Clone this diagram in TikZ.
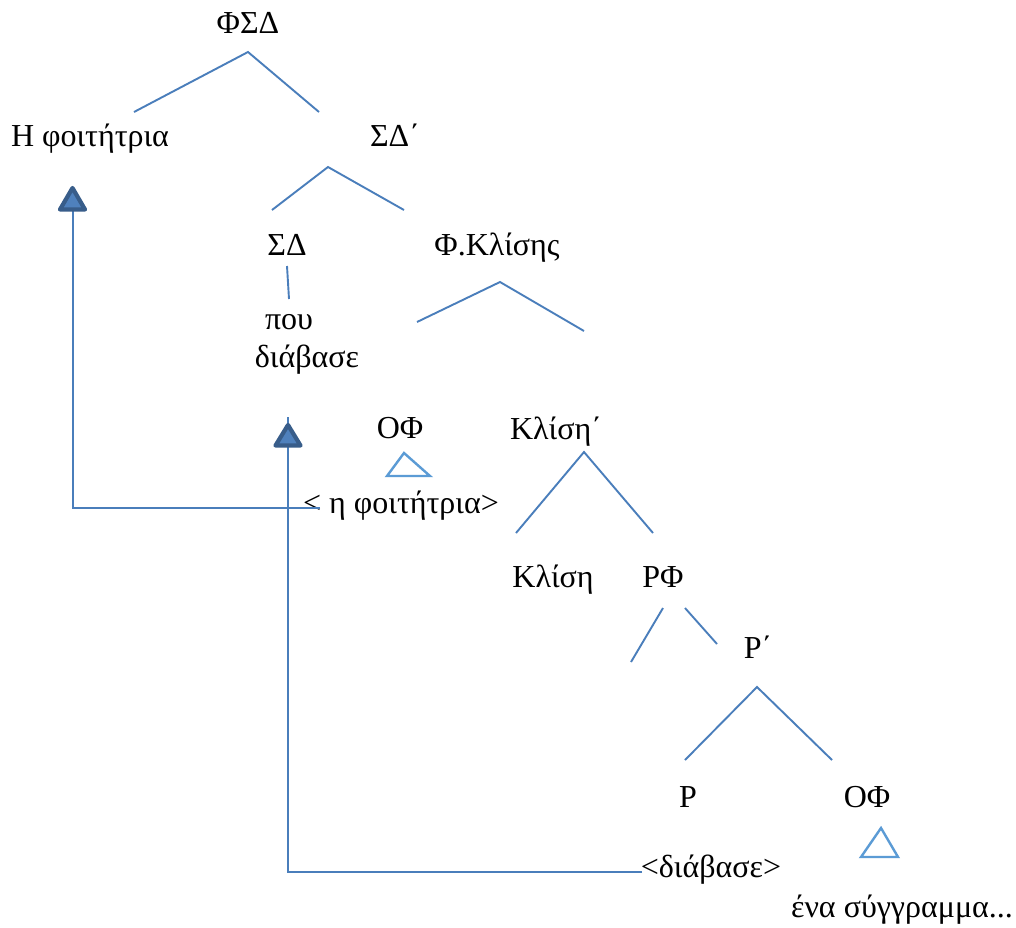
\documentclass[tikz,border=0pt]{standalone}
\usepackage{fontspec}
\setmainfont{Liberation Serif}
\definecolor{branch}{HTML}{4A7EBB}
\definecolor{tri}{HTML}{5B9BD5}
\definecolor{headfill}{HTML}{4F81BD}
\definecolor{headline}{HTML}{385D8A}
\begin{document}
\begin{tikzpicture}[x=1pt,y=-1pt,
  lbl/.style={anchor=base,inner sep=0pt,font=\fontsize{32}{38}\selectfont},
  br/.style={draw=branch,line width=1.9pt},
  tribox/.style={draw=tri,line width=2.4pt,line join=miter},
  mv/.style={draw=branch,line width=1.9pt},
  head/.style={fill=headfill,draw=headline,line width=4.2pt,line join=round}]
\useasboundingbox[fill=white] (0,0) rectangle (1016,927);

% labels
\node[lbl] (fsd) at (248,33) {ΦΣΔ};
\node[lbl] (fititria) at (90,146) {Η φοιτήτρια};
\node[lbl] (sdbar) at (395,146) {ΣΔ΄};
\node[lbl] (sd) at (287,255) {ΣΔ};
\node[lbl] (fklisis) at (497,255) {Φ.Κλίσης};
\node[lbl] (pou) at (289,329) {που};
\node[lbl] (diavase) at (307,367) {διάβασε};
\node[lbl] (of1) at (400,438) {ΟΦ};
\node[lbl] (klisibar) at (556,439) {Κλίση΄};
\node[lbl] (trace1) at (401,513) {< η φοιτήτρια>};
\node[lbl] (klisi) at (553,587) {Κλίση};
\node[lbl] (rf) at (663,587) {ΡΦ};
\node[lbl] (rbar) at (758,658) {Ρ΄};
\node[lbl] (r) at (688,807) {Ρ};
\node[lbl] (of2) at (867,807) {ΟΦ};
\node[lbl] (trace2) at (711,877) {<διάβασε>};
\node[lbl] (sygg) at (902,917) {ένα σύγγραμμα...};

% branch coordinates
\coordinate (a1) at (248,52);  \coordinate (a1l) at (134,112); \coordinate (a1r) at (319,112);
\coordinate (a2) at (328,167); \coordinate (a2l) at (272,210); \coordinate (a2r) at (404,210);
\coordinate (s1) at (287,266); \coordinate (s2) at (289,299);
\coordinate (a3) at (500,282); \coordinate (a3l) at (417,322); \coordinate (a3r) at (584,331);
\coordinate (a4) at (584,452); \coordinate (a4l) at (516,533); \coordinate (a4r) at (653,533);
\coordinate (b1) at (663,608); \coordinate (b1e) at (631,662);
\coordinate (b2) at (685,608); \coordinate (b2e) at (717,644);
\coordinate (a5) at (757,687); \coordinate (a5l) at (685,760); \coordinate (a5r) at (832,760);

\draw[br] (a1l) -- (a1) -- (a1r);
\draw[br] (a2l) -- (a2) -- (a2r);
\draw[br] (s1) -- (s2);
\draw[br] (a3l) -- (a3) -- (a3r);
\draw[br] (a4l) -- (a4) -- (a4r);
\draw[br] (b1) -- (b1e);
\draw[br] (b2) -- (b2e);
\draw[br] (a5l) -- (a5) -- (a5r);

% small triangles
\coordinate (t1) at (404,453); \coordinate (t1l) at (387,476); \coordinate (t1r) at (430,476);
\draw[tribox] (t1) -- (t1l) -- (t1r) -- cycle;
\coordinate (t2) at (881,828); \coordinate (t2l) at (861,857); \coordinate (t2r) at (898,857);
\draw[tribox] (t2) -- (t2l) -- (t2r) -- cycle;

% movement arrows
\coordinate (m1a) at (320,508); \coordinate (m1b) at (73,508); \coordinate (m1c) at (73,206);
\draw[mv] (m1a) -- (m1b) -- (m1c);
\filldraw[head] (72.5,188) -- (60,209.5) -- (85,209.5) -- cycle;

\coordinate (m2a) at (642,872); \coordinate (m2b) at (288,872); \coordinate (m2c) at (288,417);
\draw[mv] (m2a) -- (m2b) -- (m2c);
\filldraw[head] (288,425) -- (275.5,445.5) -- (300.5,445.5) -- cycle;
\end{tikzpicture}
\end{document}
